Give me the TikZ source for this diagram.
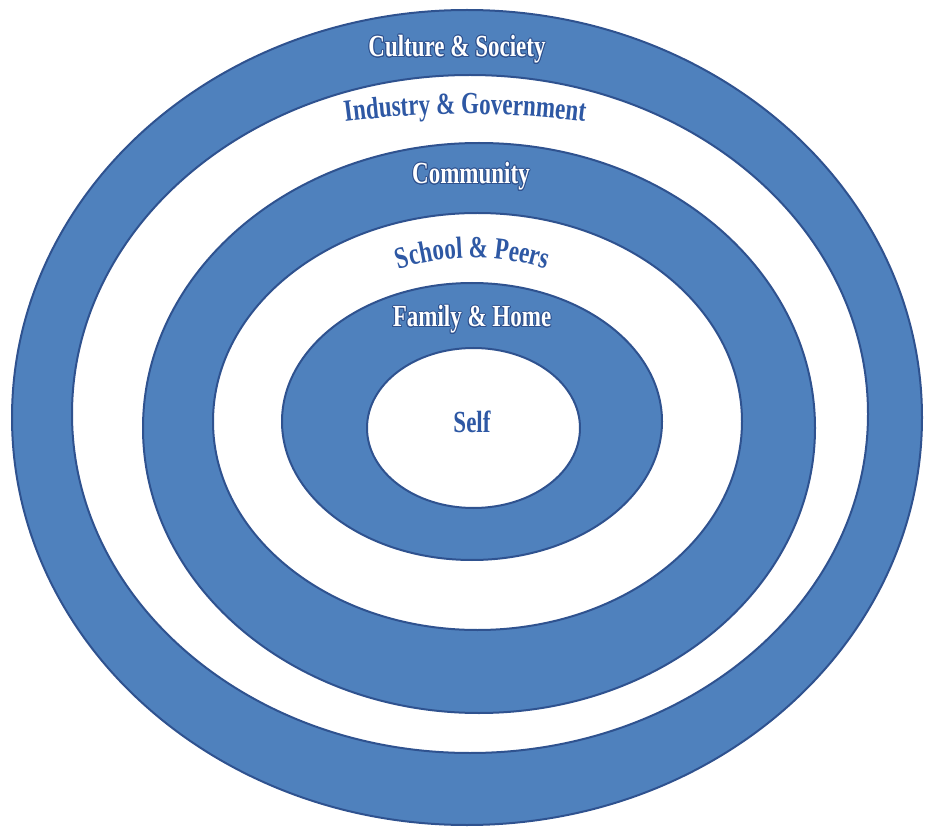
\documentclass[tikz,border=0pt]{standalone}
\usepackage{fontspec}
\newfontfamily\ringfont{Liberation Serif}[FakeStretch=0.75]
\usepackage{contour}
\contourlength{0.7pt}
\usetikzlibrary{decorations.text}

\definecolor{bandblue}{RGB}{79,129,189}
\definecolor{bandedge}{RGB}{47,82,143}
\definecolor{ringtext}{RGB}{46,88,164}

\tikzset{every picture/.style={line width=0.75pt}}
\tikzset{
  band/.style={draw=bandedge, fill=bandblue, line width=1.5},
  gap/.style={draw=bandedge, fill=white, line width=1.5},
  bandlabel/.style={inner sep=0.75pt, text=white, font=\ringfont\bfseries\fontsize{23}{23}\selectfont},
  gaplabel/.style={inner sep=0.75pt, text=ringtext, font=\ringfont\bfseries\fontsize{23}{23}\selectfont}
}

\begin{document}
\begin{tikzpicture}[x=0.75pt,y=0.75pt,yscale=-1,xscale=1]
\useasboundingbox (0,0) rectangle (925,827);

%Shape: Ellipse (outer ring)
\draw [band] (467,417.5) ellipse (455 and 407.5);
%Shape: Ellipse
\draw [gap] (470,414) ellipse (398 and 339);
%Shape: Ellipse
\draw [band] (479,428) ellipse (336 and 285);
%Shape: Ellipse
\draw [gap] (477.5,421.5) ellipse (264.5 and 208.5);
%Shape: Ellipse
\draw [band] (472,421.5) ellipse (190 and 138.5);
%Shape: Ellipse (centre)
\draw [gap] (473.5,428) ellipse (106.5 and 80);

% Text Node
\draw (457,50) node [bandlabel] (culture) {\contour{bandedge}{Culture \& Society}};
% Curved Text
\path [decorate, decoration={text along path, text align=center,
  text={|\ringfont\bfseries\fontsize{23}{23}\selectfont\color{ringtext}|Industry {\&} Government}}]
  (336,123) .. controls (420,111) and (510,111) .. (594,123);
% Text Node
\draw (471,177) node [bandlabel] (community) {\contour{bandedge}{Community}};
% Curved Text
\path [decorate, decoration={text along path, text align=center,
  text={|\ringfont\bfseries\fontsize{23}{23}\selectfont\color{ringtext}|School {\&} Peers}}]
  (394,271) .. controls (445,253) and (500,253) .. (551,271);
% Text Node
\draw (472,320) node [bandlabel] (family) {\contour{bandedge}{Family \& Home}};
% Text Node
\draw (472,422) node [gaplabel] (self) {Self};

\end{tikzpicture}
\end{document}
